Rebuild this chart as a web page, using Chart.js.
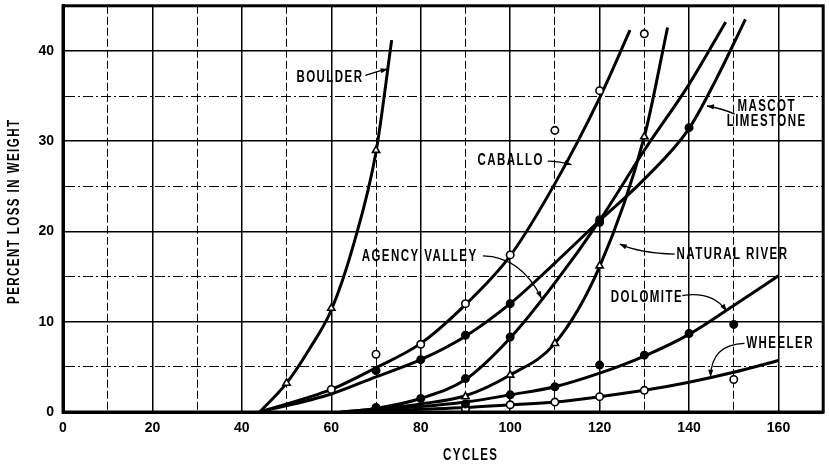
<!DOCTYPE html>
<html>
<head>
<meta charset="utf-8">
<script src="https://cdn.jsdelivr.net/npm/chart.js@4.4.1/dist/chart.umd.min.js"></script>
<style>
  html, body { margin: 0; padding: 0; background: #fff; }
  #wrap { position: relative; width: 829px; height: 465px; }
</style>
</head>
<body>
<div id="wrap"><canvas id="myChart"></canvas></div>
<script>
// tick labels
const xTicks = [0, 20, 40, 60, 80, 100, 120, 140, 160];
const yTicks = [0, 10, 20, 30, 40];

// fitted curves, percent loss vs cycles
const boulderCx = [44, 50, 55, 60, 65, 70, 73.5];
const boulderCy = [0, 3.2, 6.9, 11.3, 18.6, 28.8, 41.2];
const caballoCx = [44, 60, 70, 80, 90, 100, 110, 120, 126.8];
const caballoCy = [0, 2.5, 4.9, 7.6, 11.9, 17.3, 25.3, 34.8, 42.3];
const mascotCx = [44, 60, 70, 80, 90, 100, 110, 120, 130, 140, 146, 152.6];
const mascotCy = [0, 2.0, 3.9, 5.8, 8.4, 12, 16.5, 21.2, 25.8, 31.4, 36.8, 43.5];
const agencyCx = [63, 70, 80, 90, 100, 110, 120, 130, 140, 148.2];
const agencyCy = [0, 0.4, 1.5, 3.6, 8.2, 14.3, 21.2, 29, 36.3, 43.2];
const riverCx = [66, 70, 80, 90, 100, 110, 120, 130, 135.2];
const riverCy = [0, 0.3, 0.9, 1.8, 4.1, 7.6, 16.1, 30.5, 42.6];
const dolomiteCx = [62, 70, 80, 90, 100, 110, 120, 130, 140, 150, 160];
const dolomiteCy = [0, 0.3, 0.6, 1.1, 1.9, 2.8, 4.3, 6.2, 8.6, 11.8, 15.1];
const wheelerCx = [64, 70, 80, 90, 100, 110, 120, 130, 140, 150, 160];
const wheelerCy = [0, 0.1, 0.3, 0.5, 0.8, 1.1, 1.7, 2.4, 3.3, 4.4, 5.7];

// test results
const boulderPx = [50, 60, 70];
const boulderPy = [3.2, 11.5, 29];
const caballoPx = [60, 70, 80, 90, 100, 110, 120, 130];
const caballoPy = [2.5, 6.4, 7.5, 12, 17.4, 31.2, 35.6, 41.9];
const mascotPx = [70, 80, 90, 100, 120, 140];
const mascotPy = [4.6, 5.8, 8.5, 12, 21.3, 31.5];
const agencyPx = [70, 80, 90, 100, 120];
const agencyPy = [0.5, 1.5, 3.7, 8.3, 21];
const riverPx = [90, 100, 110, 120, 130];
const riverPy = [1.7, 4.1, 7.6, 16.2, 30.5];
const dolomitePx = [90, 100, 110, 120, 130, 140, 150];
const dolomitePy = [0.9, 1.9, 2.8, 5.2, 6.3, 8.7, 9.7];
const wheelerPx = [90, 100, 110, 120, 130, 150];
const wheelerPy = [0.3, 0.8, 1.1, 1.7, 2.4, 3.6];

const pts = (xs, ys) => xs.map((x, i) => ({ x: x, y: ys[i] }));

function curve(xs, ys) {
  return {
    data: pts(xs, ys),
    showLine: true,
    borderColor: '#000',
    borderWidth: 3,
    pointRadius: 0,
    pointHoverRadius: 0,
    cubicInterpolationMode: 'monotone',
    fill: false,
    order: 2
  };
}

function marks(xs, ys, style, filled) {
  return {
    data: pts(xs, ys),
    showLine: false,
    pointStyle: style,
    pointRadius: style === 'triangle' ? 4.2 : 3.7,
    pointBorderWidth: 1.6,
    pointBorderColor: '#000',
    pointBackgroundColor: filled ? '#000' : '#fff',
    order: 1
  };
}

// label text and leader arrows, in axis units
const notes = [
  { lines: ['BOULDER'], x: 52.2, y: 37.1, align: 'left', arrow: [[67.6, 37.3], [70.2, 37.7], [72.6, 38.0]] },
  { lines: ['CABALLO'], x: 92.7, y: 27.8, align: 'left', arrow: [[108.4, 27.8], [111, 27.8], [113.7, 27.4]] },
  { lines: ['MASCOT', 'LIMESTONE'], x: 157.2, y: 33.0, align: 'center', arrow: [[150.2, 33.0], [147, 33.7], [144.0, 33.9]] },
  { lines: ['AGENCY VALLEY'], x: 66.8, y: 17.2, align: 'left', arrow: [[93.9, 17.3], [102.5, 17.2], [107.0, 12.6]] },
  { lines: ['NATURAL RIVER'], x: 137.2, y: 17.4, align: 'left', arrow: [[136.8, 17.5], [129, 17.6], [124.5, 18.6]] },
  { lines: ['DOLOMITE'], x: 122.5, y: 12.7, align: 'left', arrow: [[138.5, 12.9], [145.2, 13.4], [148.4, 11.2]] },
  { lines: ['WHEELER'], x: 152.8, y: 7.6, align: 'left', arrow: [[152.4, 7.6], [145, 7.5], [144.8, 3.9]] }
];

const FONT = 'bold 16px "Liberation Sans", Arial, sans-serif';
const SQUEEZE = 0.72;

function squeezedText(ctx, str, x, y, align, rot) {
  ctx.save();
  ctx.translate(x, y);
  if (rot) ctx.rotate(rot);
  ctx.scale(SQUEEZE, 1);
  ctx.font = FONT;
  ctx.letterSpacing = '2px';
  ctx.fillStyle = '#000';
  ctx.textAlign = align;
  ctx.textBaseline = 'middle';
  ctx.fillText(str, align === 'left' ? 0 : 1, 0);
  ctx.restore();
}

const notesPlugin = {
  id: 'notes',
  afterDatasetsDraw(chart) {
    const { ctx, chartArea: a, scales: { x, y } } = chart;

    // frame
    ctx.save();
    ctx.strokeStyle = '#000';
    ctx.lineWidth = 3;
    ctx.strokeRect(a.left, a.top, a.right - a.left, a.bottom - a.top);
    ctx.restore();

    notes.forEach(n => {
      const px = x.getPixelForValue(n.x);
      const py = y.getPixelForValue(n.y);
      const lh = 15;
      n.lines.forEach((t, i) => {
        const dy = (i - (n.lines.length - 1) / 2) * lh;
        squeezedText(ctx, t, px, py + dy, n.align, 0);
      });
      const p = n.arrow.map(q => [x.getPixelForValue(q[0]), y.getPixelForValue(q[1])]);
      ctx.save();
      ctx.strokeStyle = '#000';
      ctx.fillStyle = '#000';
      ctx.lineWidth = 1.3;
      ctx.beginPath();
      ctx.moveTo(p[0][0], p[0][1]);
      ctx.quadraticCurveTo(p[1][0], p[1][1], p[2][0], p[2][1]);
      ctx.stroke();
      const ang = Math.atan2(p[2][1] - p[1][1], p[2][0] - p[1][0]);
      ctx.translate(p[2][0], p[2][1]);
      ctx.rotate(ang);
      ctx.beginPath();
      ctx.moveTo(0, 0);
      ctx.lineTo(-7, -2.6);
      ctx.lineTo(-7, 2.6);
      ctx.closePath();
      ctx.fill();
      ctx.restore();
    });

    // axis titles
    squeezedText(ctx, 'PERCENT LOSS IN WEIGHT', 15, 212, 'center', -Math.PI / 2);
    squeezedText(ctx, 'CYCLES', 470, 456, 'center', 0);
  }
};

const ctx = document.getElementById('myChart');

new Chart(ctx, {
  type: 'scatter',
  data: {
    datasets: [
      curve(boulderCx, boulderCy),
      curve(caballoCx, caballoCy),
      curve(mascotCx, mascotCy),
      curve(agencyCx, agencyCy),
      curve(riverCx, riverCy),
      curve(dolomiteCx, dolomiteCy),
      curve(wheelerCx, wheelerCy),
      marks(boulderPx, boulderPy, 'triangle', false),
      marks(caballoPx, caballoPy, 'circle', false),
      marks(mascotPx, mascotPy, 'circle', true),
      marks(agencyPx, agencyPy, 'circle', true),
      marks(riverPx, riverPy, 'triangle', false),
      marks(dolomitePx, dolomitePy, 'circle', true),
      marks(wheelerPx, wheelerPy, 'circle', false)
    ]
  },
  options: {
    responsive: true,
    maintainAspectRatio: false,
    animation: false,
    layout: { padding: { top: 4, right: 4, left: 0, bottom: 0 } },
    plugins: {
      legend: { display: false },
      tooltip: { enabled: false }
    },
    scales: {
      x: {
        type: 'linear',
        min: 0,
        max: 170,
        afterFit: s => { s.height = 53; s.paddingLeft = 0; s.paddingRight = 0; },
        afterBuildTicks: s => { s.ticks = Array.from({ length: 17 }, (_, i) => ({ value: i * 10 })); },
        ticks: {
          autoSkip: false,
          maxRotation: 0,
          padding: 8,
          color: '#000',
          font: { family: '"Liberation Sans", Arial, sans-serif', size: 14, weight: 'bold' },
          callback: v => xTicks.includes(v) ? String(v) : (v < 170 ? '' : null)
        },
        grid: {
          color: '#000',
          drawTicks: false,
          lineWidth: c => (c.tick && c.tick.value % 20 === 0) ? 1.5 : 1
        },
        border: {
          display: true,
          color: '#000',
          width: 3,
          dash: c => (c.tick && c.tick.value % 20 !== 0) ? [8, 3] : []
        }
      },
      y: {
        type: 'linear',
        min: 0,
        max: 45,
        afterFit: s => { s.width = 63; s.paddingTop = 0; s.paddingBottom = 0; },
        afterBuildTicks: s => { s.ticks = Array.from({ length: 9 }, (_, i) => ({ value: i * 5 })); },
        ticks: {
          autoSkip: false,
          padding: 9,
          color: '#000',
          font: { family: '"Liberation Sans", Arial, sans-serif', size: 14, weight: 'bold' },
          callback: v => yTicks.includes(v) ? String(v) : (v < 45 ? '' : null)
        },
        grid: {
          color: '#000',
          drawTicks: false,
          lineWidth: c => (c.tick && c.tick.value % 10 === 0) ? 1.5 : 1
        },
        border: {
          display: true,
          color: '#000',
          width: 3,
          dash: c => (c.tick && c.tick.value % 10 !== 0) ? [10, 3, 2, 3] : []
        }
      }
    }
  },
  plugins: [notesPlugin]
});
</script>
</body>
</html>
